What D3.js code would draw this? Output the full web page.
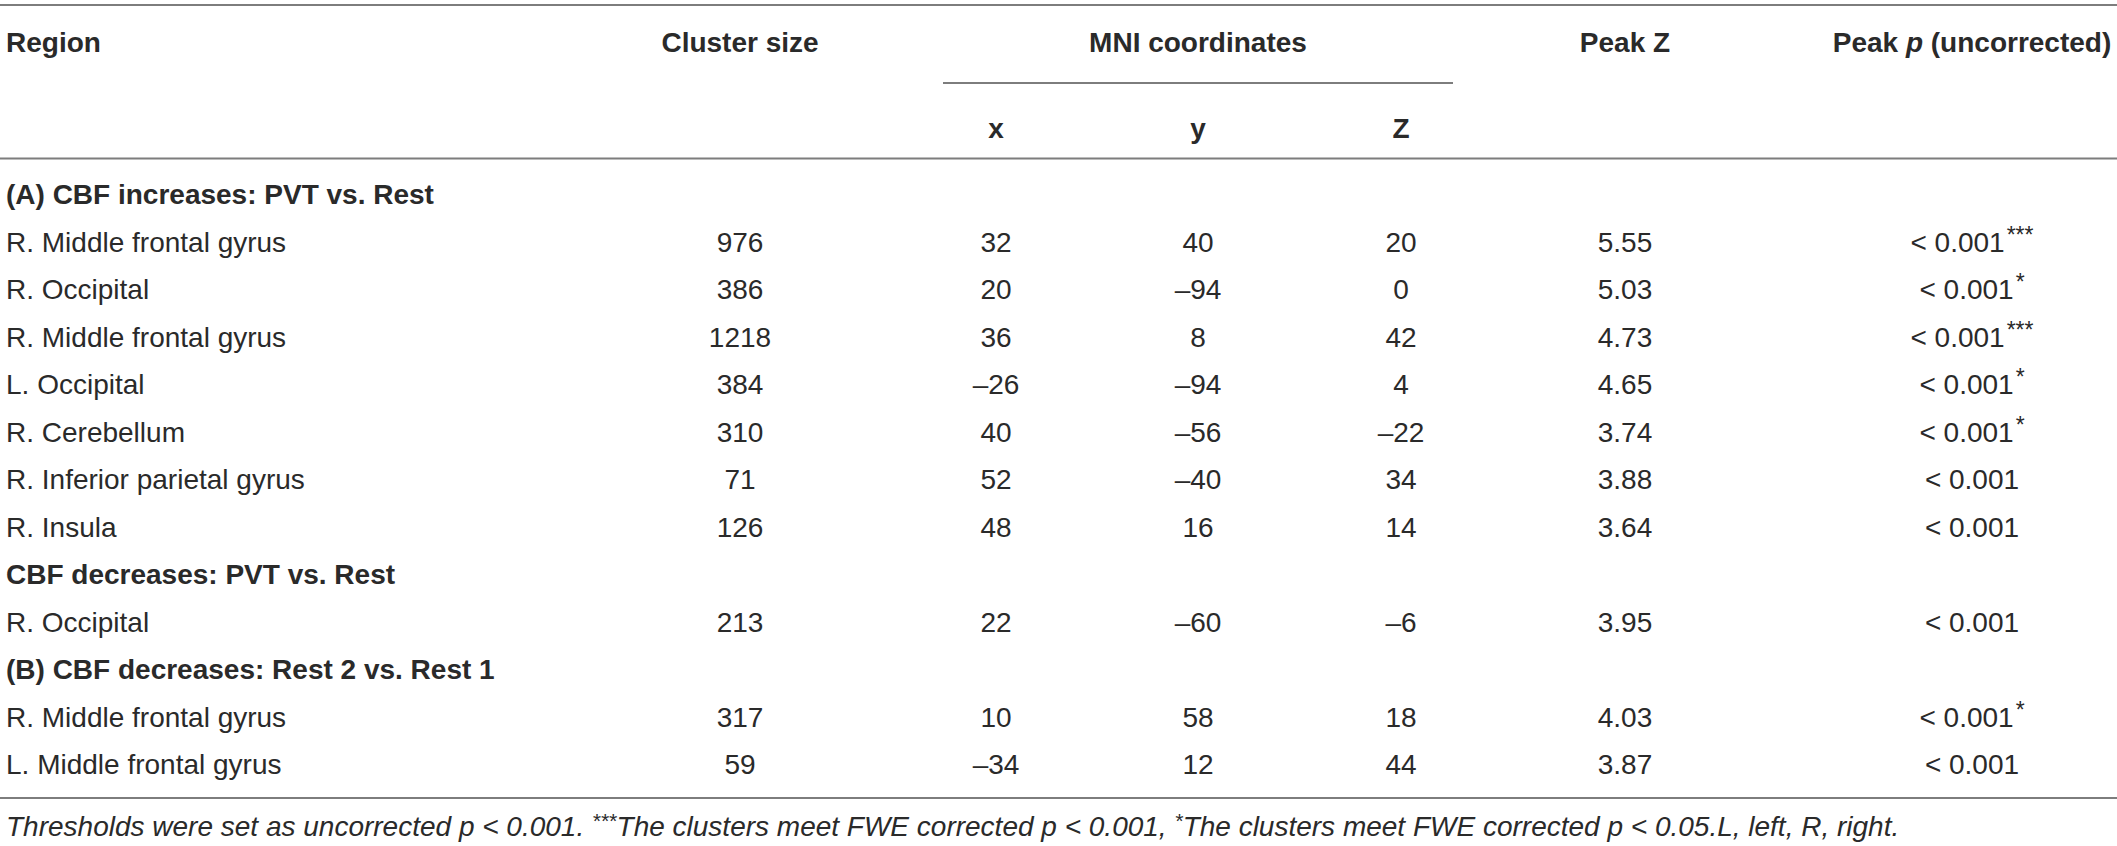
<!DOCTYPE html>
<html>
<head>
<meta charset="utf-8">
<script src="https://cdn.jsdelivr.net/npm/d3@7"></script>
<style>
  body { margin: 0; background: #fff; }
  text { font-family: "Liberation Sans", Arial, Helvetica, sans-serif; fill: #2a2a2a; }
</style>
</head>
<body>
<script>
// table contents
var sectionTitles = ['(A) CBF increases: PVT vs. Rest', 'CBF decreases: PVT vs. Rest', '(B) CBF decreases: Rest 2 vs. Rest 1'];
var regions = ['R. Middle frontal gyrus', 'R. Occipital', 'R. Middle frontal gyrus', 'L. Occipital', 'R. Cerebellum',
  'R. Inferior parietal gyrus', 'R. Insula', 'R. Occipital', 'R. Middle frontal gyrus', 'L. Middle frontal gyrus'];
var sectionOf = [0, 0, 0, 0, 0, 0, 0, 1, 2, 2];
var clusterSize = [976, 386, 1218, 384, 310, 71, 126, 213, 317, 59];
var mniX = [32, 20, 36, -26, 40, 52, 48, 22, 10, -34];
var mniY = [40, -94, 8, -94, -56, -40, 16, -60, 58, 12];
var mniZ = [20, 0, 42, 4, -22, 34, 14, -6, 18, 44];
var peakZ = [5.55, 5.03, 4.73, 4.65, 3.74, 3.88, 3.64, 3.95, 4.03, 3.87];
var peakP = ['< 0.001', '< 0.001', '< 0.001', '< 0.001', '< 0.001', '< 0.001', '< 0.001', '< 0.001', '< 0.001', '< 0.001'];
var stars = ['***', '*', '***', '*', '*', '', '', '', '*', ''];
var columns = ['cluster', 'x', 'y', 'z', 'peakZ', 'peakP'];
var columnCenters = [740, 996, 1198, 1401, 1625, 1972];

var width = 2117, height = 846;
var fs = 28;
var lineColor = '#7d7d7d';

var svg = d3.select('body').append('svg')
  .attr('width', width)
  .attr('height', height);

var colX = d3.scaleOrdinal().domain(columns).range(columnCenters);

// build the body rows: section titles interleaved with data rows
var rows = [];
regions.forEach(function(r, i) {
  if (i === 0 || sectionOf[i] !== sectionOf[i - 1]) {
    rows.push({ type: 'section', label: sectionTitles[sectionOf[i]] });
  }
  rows.push({ type: 'data', i: i });
});

var rowY = d3.scalePoint().domain(d3.range(rows.length)).range([194, 764]);

function fmt(v) { return v < 0 ? '\u2013' + Math.abs(v) : String(v); }
function base(y) { return y + fs * 0.36; }

// rules
function rule(y, x0, x1) {
  svg.append('line').attr('x1', x0).attr('x2', x1).attr('y1', y).attr('y2', y)
    .attr('stroke', lineColor).attr('stroke-width', 2);
}
rule(5, 0, width);
rule(83, 943, 1453);
rule(158.5, 0, width);
rule(798, 0, width);

// header
var head = svg.append('g').attr('font-weight', 'bold').attr('font-size', fs);
head.append('text').attr('x', 6).attr('y', base(42)).text('Region');
head.append('text').attr('x', colX('cluster')).attr('y', base(42)).attr('text-anchor', 'middle').text('Cluster size');
head.append('text').attr('x', colX('y')).attr('y', base(42)).attr('text-anchor', 'middle').text('MNI coordinates');
head.append('text').attr('x', colX('peakZ')).attr('y', base(42)).attr('text-anchor', 'middle').text('Peak Z');
var ph = head.append('text').attr('x', colX('peakP')).attr('y', base(42)).attr('text-anchor', 'middle');
ph.append('tspan').text('Peak ');
ph.append('tspan').attr('font-style', 'italic').text('p');
ph.append('tspan').text(' (uncorrected)');
[['x', 'x'], ['y', 'y'], ['z', 'Z']].forEach(function(c) {
  head.append('text').attr('x', colX(c[0])).attr('y', base(128)).attr('text-anchor', 'middle').text(c[1]);
});

// body
var body = svg.append('g').attr('font-size', fs);
rows.forEach(function(row, k) {
  var y = base(rowY(k));
  if (row.type === 'section') {
    body.append('text').attr('x', 6).attr('y', y).attr('font-weight', 'bold').text(row.label);
    return;
  }
  var i = row.i;
  body.append('text').attr('x', 6).attr('y', y).text(regions[i]);
  var vals = [clusterSize[i], fmt(mniX[i]), fmt(mniY[i]), fmt(mniZ[i]), peakZ[i].toFixed(2)];
  vals.forEach(function(v, j) {
    body.append('text').attr('x', colX(columns[j])).attr('y', y).attr('text-anchor', 'middle').text(v);
  });
  var t = body.append('text').attr('x', colX('peakP')).attr('y', y).attr('text-anchor', 'middle');
  t.append('tspan').text(peakP[i]);
  if (stars[i]) {
    t.append('tspan').attr('font-size', 23).attr('dx', 2).attr('dy', -9).text(stars[i]);
  }
});

// footnote
var note = svg.append('text').attr('x', 6).attr('y', base(826)).attr('font-size', 28).attr('font-style', 'italic');
note.append('tspan').text('Thresholds were set as uncorrected p < 0.001. ');
note.append('tspan').attr('font-size', 21).attr('dy', -8).text('***');
note.append('tspan').attr('dy', 8).text('The clusters meet FWE corrected p < 0.001, ');
note.append('tspan').attr('font-size', 21).attr('dy', -8).text('*');
note.append('tspan').attr('dy', 8).text('The clusters meet FWE corrected p < 0.05.L, left, R, right.');
</script>
</body>
</html>
